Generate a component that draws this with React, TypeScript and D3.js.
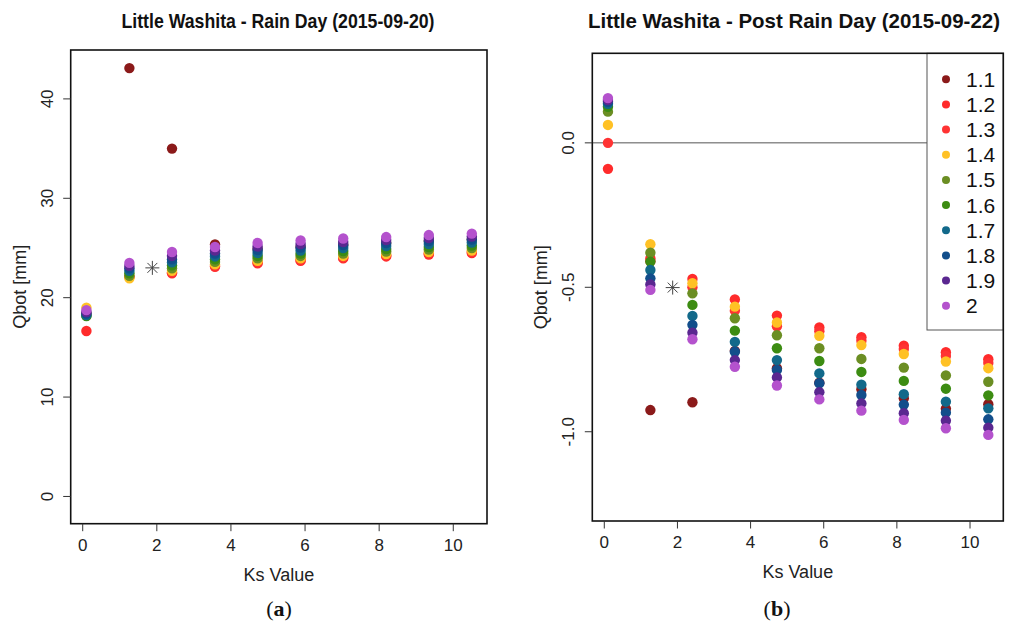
import React from "react";
import * as d3 from "d3";

// ---------- data ----------
const KS = [0.1, 1.26, 2.41, 3.57, 4.72, 5.88, 7.03, 8.19, 9.34, 10.5];
const SERIES = ["1.1", "1.2", "1.3", "1.4", "1.5", "1.6", "1.7", "1.8", "1.9", "2"];
const COLORS = ["#8B1A1A", "#FF2B2B", "#FF3333", "#FFC125", "#6B8E23", "#3C8C12", "#12698A", "#124E8B", "#5A2790", "#B452CD"];

// Rain day (2015-09-20), Qbot [mm]
const rain_1_1 = [null, 43.1, 35.0, 25.35, 24.9, 25.1, 25.3, 25.5, 25.7, 25.85];
const rain_1_2 = [16.65, 22.1, 22.45, 23.1, 23.45, 23.7, 23.95, 24.15, 24.35, 24.5];
const rain_1_3 = [18.4, 22.1, 22.55, 23.2, 23.55, 23.8, 24.05, 24.25, 24.45, 24.6];
const rain_1_4 = [19.0, 21.95, 22.7, 23.35, 23.7, 23.95, 24.2, 24.4, 24.6, 24.75];
const rain_1_5 = [18.2, 22.2, 22.95, 23.6, 23.95, 24.2, 24.45, 24.65, 24.85, 25.0];
const rain_1_6 = [18.15, 22.45, 23.25, 23.85, 24.2, 24.45, 24.7, 24.9, 25.1, 25.25];
const rain_1_7 = [18.25, 22.7, 23.55, 24.15, 24.5, 24.75, 25.0, 25.2, 25.4, 25.55];
const rain_1_8 = [18.4, 22.95, 23.85, 24.45, 24.8, 25.05, 25.3, 25.5, 25.7, 25.85];
const rain_1_9 = [18.55, 23.2, 24.2, 24.75, 25.15, 25.4, 25.6, 25.8, 26.0, 26.15];
const rain_2_0 = [18.75, 23.5, 24.6, 25.1, 25.5, 25.75, 25.95, 26.1, 26.3, 26.45];

// Post rain day (2015-09-22), Qbot [mm]
const post_1_1 = [null, -0.925, -0.898, -0.72, -0.78, -0.83, -0.853, -0.884, -0.92, -0.905];
const post_1_2 = [-0.09, -0.40, -0.471, -0.542, -0.598, -0.639, -0.673, -0.702, -0.725, -0.749];
const post_1_3 = [0.0, -0.41, -0.50, -0.581, -0.635, -0.652, -0.685, -0.714, -0.738, -0.762];
const post_1_4 = [0.062, -0.351, -0.486, -0.567, -0.622, -0.668, -0.700, -0.731, -0.757, -0.780];
const post_1_5 = [0.108, -0.380, -0.521, -0.607, -0.666, -0.711, -0.748, -0.778, -0.805, -0.827];
const post_1_6 = [0.125, -0.411, -0.561, -0.650, -0.711, -0.755, -0.793, -0.824, -0.851, -0.874];
const post_1_7 = [0.135, -0.440, -0.599, -0.689, -0.752, -0.798, -0.837, -0.870, -0.896, -0.919];
const post_1_8 = [0.142, -0.469, -0.630, -0.723, -0.786, -0.832, -0.873, -0.906, -0.934, -0.957];
const post_1_9 = [0.148, -0.490, -0.657, -0.752, -0.812, -0.863, -0.902, -0.936, -0.962, -0.986];
const post_2_0 = [0.155, -0.509, -0.680, -0.775, -0.840, -0.888, -0.927, -0.959, -0.988, -1.011];

const RAIN = [rain_1_1, rain_1_2, rain_1_3, rain_1_4, rain_1_5, rain_1_6, rain_1_7, rain_1_8, rain_1_9, rain_2_0];
const POST = [post_1_1, post_1_2, post_1_3, post_1_4, post_1_5, post_1_6, post_1_7, post_1_8, post_1_9, post_2_0];

// observed points (asterisk)
const RAIN_OBS = { ks: 1.88, q: 23.0 };
const POST_OBS = { ks: 1.87, q: -0.501 };

const X_TICKS = [0, 2, 4, 6, 8, 10];
const RAIN_Y_TICKS = [0, 10, 20, 30, 40];
const POST_Y_TICKS = [-1.0, -0.5, 0.0];

const FONT = "'Liberation Sans', Arial, Helvetica, sans-serif";

type PanelProps = {
  title: string;
  data: (number | null)[][];
  obs: { ks: number; q: number };
  box: { l: number; r: number; t: number; b: number };
  xDomain: [number, number];
  yDomain: [number, number];
  yTicks: number[];
  yFmt: (v: number) => string;
  titleLen: number;
  titleX: number;
  zeroLine?: number;
  legend?: boolean;
  ylabX: number;
};

function Asterisk({ x, y, s }: { x: number; y: number; s: number }) {
  const d = s * 0.7071;
  return (
    <g stroke="#444" strokeWidth={1}>
      <line x1={x - s} y1={y} x2={x + s} y2={y} />
      <line x1={x} y1={y - s} x2={x} y2={y + s} />
      <line x1={x - d} y1={y - d} x2={x + d} y2={y + d} />
      <line x1={x - d} y1={y + d} x2={x + d} y2={y - d} />
    </g>
  );
}

function Panel(p: PanelProps) {
  const { box } = p;
  const x = d3.scaleLinear().domain(p.xDomain).range([box.l, box.r]);
  const y = d3.scaleLinear().domain(p.yDomain).range([box.b, box.t]);
  const cx = (box.l + box.r) / 2;
  const cy = (box.t + box.b) / 2;
  const legX = 927;
  return (
    <g fontFamily={FONT}>
      <text x={p.titleX} y={28} textAnchor="middle" fontWeight="bold" fontSize={21}
        textLength={p.titleLen} lengthAdjust="spacingAndGlyphs" fill="#111">{p.title}</text>
      {p.zeroLine !== undefined && (
        <line x1={box.l} x2={box.r} y1={y(p.zeroLine)} y2={y(p.zeroLine)} stroke="#555" strokeWidth={1} />
      )}
      {p.data.map((vals, si) => (
        <g key={si} fill={COLORS[si]}>
          {vals.map((v, i) =>
            v === null ? null : <circle key={i} cx={x(KS[i])} cy={y(v)} r={5.2} />
          )}
        </g>
      ))}
      <Asterisk x={x(p.obs.ks)} y={y(p.obs.q)} s={7} />
      {p.legend && (
        <g>
          <rect x={legX} y={box.t} width={box.r - legX} height={330 - box.t} fill="#fff" stroke="#555" strokeWidth={1} />
          {SERIES.map((s, i) => (
            <g key={s}>
              <circle cx={946} cy={79.3 + i * 25.16} r={4} fill={COLORS[i]} />
              <text x={966} y={79.3 + i * 25.16 + 7.5} fontSize={21} fill="#111">{s}</text>
            </g>
          ))}
        </g>
      )}
      <rect x={box.l} y={box.t} width={box.r - box.l} height={box.b - box.t} fill="none" stroke="#111" strokeWidth={1.6} />
      {/* x axis */}
      {X_TICKS.map((t) => (
        <g key={t}>
          <line x1={x(t)} x2={x(t)} y1={box.b} y2={box.b + 7.5} stroke="#333" strokeWidth={1} />
          <text x={x(t)} y={box.b + 27} textAnchor="middle" fontSize={17} fill="#222">{t}</text>
        </g>
      ))}
      <text x={cx} y={box.b + 57} textAnchor="middle" fontSize={18} fill="#222">Ks Value</text>
      {/* y axis */}
      {p.yTicks.map((t) => (
        <g key={t}>
          <line x1={box.l - 7.5} x2={box.l} y1={y(t)} y2={y(t)} stroke="#333" strokeWidth={1} />
          <text transform={`translate(${box.l - 18},${y(t)}) rotate(-90)`} textAnchor="middle" fontSize={17} fill="#222">{p.yFmt(t)}</text>
        </g>
      ))}
      <text transform={`translate(${p.ylabX},${cy}) rotate(-90)`} textAnchor="middle" fontSize={18} fill="#222">Qbot [mm]</text>
    </g>
  );
}

export default function App() {
  return (
    <svg width={1010} height={630} viewBox="0 0 1010 630"
      style={{ position: "absolute", left: 0, top: 0, display: "block", background: "#fff" }}>
      <rect x={0} y={0} width={1010} height={630} fill="#fff" />
      <Panel
        title="Little Washita - Rain Day (2015-09-20)"
        data={RAIN}
        obs={RAIN_OBS}
        box={{ l: 70.7, r: 487, t: 50, b: 523.7 }}
        xDomain={[-0.324, 10.91]}
        yDomain={[-2.74, 44.92]}
        yTicks={RAIN_Y_TICKS}
        yFmt={(v) => d3.format("d")(v)}
        titleLen={313}
        titleX={278}
        ylabX={26}
      />
      <Panel
        title="Little Washita - Post Rain Day (2015-09-22)"
        data={POST}
        obs={POST_OBS}
        box={{ l: 592.3, r: 1003.3, t: 53.3, b: 521 }}
        xDomain={[-0.328, 10.91]}
        yDomain={[-1.309, 0.31]}
        yTicks={POST_Y_TICKS}
        yFmt={(v) => d3.format(".1f")(v).replace("−", "-")}
        titleLen={412}
        titleX={794}
        zeroLine={0}
        legend
        ylabX={547}
      />
      <text x={279} y={616} textAnchor="middle" fontFamily="'Liberation Serif', 'DejaVu Serif', serif" fontSize={22} fill="#111">
        (<tspan fontWeight="bold">a</tspan>)
      </text>
      <text x={777} y={616} textAnchor="middle" fontFamily="'Liberation Serif', 'DejaVu Serif', serif" fontSize={22} fill="#111">
        (<tspan fontWeight="bold">b</tspan>)
      </text>
    </svg>
  );
}
